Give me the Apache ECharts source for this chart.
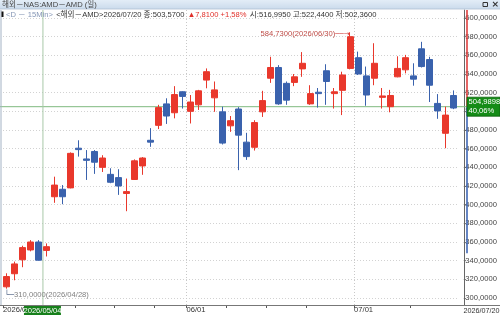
<!DOCTYPE html>
<html><head><meta charset="utf-8">
<script src="https://cdn.jsdelivr.net/npm/echarts@6/dist/echarts.min.js"></script>
<style>html,body{margin:0;padding:0;background:#fff;overflow:hidden}#c{width:500px;height:315px}</style>
</head><body><div id="c"></div>
<script>
// ---------- data ----------
const dates = ['2026/04/28','2026/04/29','2026/04/30','2026/05/01','2026/05/04','2026/05/05','2026/05/06','2026/05/07','2026/05/08',
 '2026/05/11','2026/05/12','2026/05/13','2026/05/14','2026/05/15','2026/05/18','2026/05/19','2026/05/20','2026/05/21','2026/05/22',
 '2026/05/26','2026/05/27','2026/05/28','2026/05/29','2026/06/01','2026/06/02','2026/06/03','2026/06/04','2026/06/05',
 '2026/06/08','2026/06/09','2026/06/10','2026/06/11','2026/06/12','2026/06/15','2026/06/16','2026/06/17','2026/06/18',
 '2026/06/22','2026/06/23','2026/06/24','2026/06/25','2026/06/26','2026/06/29','2026/06/30','2026/07/01','2026/07/02',
 '2026/07/06','2026/07/07','2026/07/08','2026/07/09','2026/07/10','2026/07/13','2026/07/14','2026/07/15','2026/07/16','2026/07/17','2026/07/20'];
const openP  = [312,326,341,351.5,360,351,408.5,416.5,418,460.5,449,457,440,432.5,429,412,427,441.5,469,485,508,498.5,521,500,507,533.5,514.5,499.5,484.5,502.5,467,461.5,499.5,535.5,547,530,531,545.5,508,520.5,543.5,519,522.5,546,557.5,538,535.5,515,505,537,544.5,538,567,555.5,508.5,476.5,516.995];
const closeP = [323,336.5,354,360,340.5,355,421,408.5,455,459,447.5,445.5,450,424,420,414,447,450,467,504,495,518,516,510,522,542.5,523,466,490,474.5,451.5,488,511.5,547,508,512,537,551.5,519,519,532,521,539,580,540,517.5,551.5,516.5,517,546,557.5,534.5,548,528,500.5,496,503.57];
const lowP   = [310,319,333,350,340,344.5,402,400.5,417.5,451.5,426.5,433,435,423,410.5,393,426.5,432,462,481,486.5,492.5,503,487,501.5,524.7,499.5,464.5,478,437,448,458,494,530.5,507,507,527,537,507,504,507,503,496,545,539,506,528,503,499,536.5,540.7,527.5,547,510,492,460.5,502.36];
const highP  = [326.5,339,356,362,362,358.5,430,421,456,469,458.5,458.5,453,439,438,428,448.5,451,482,507,514,527,521.5,517.5,523,546,532,505,495,504.5,477,490.5,522,558.5,549.5,532,540,563.5,528,525,550.5,525,542.5,584.73,564,548,573,525,523,559,560.5,551.5,574.5,558.5,518.5,505,522.44];
const yTicks = [300,320,340,360,380,400,420,440,460,480,500,520,540,560,580,600];
const tickDates = ['2026/05/11','2026/05/18','2026/05/26','2026/06/01','2026/06/08','2026/06/15','2026/06/23','2026/07/01','2026/07/13'];
const monthDates = ['2026/06/01','2026/07/01'];
const crossDate = '2026/05/04';
const crossPrice = 504.9898;
const crossPct = '40,06%';
const axisBlueEnd = 348;
const titleText = '해외－NAS:AMD－AMD (일)';
const infoParts = ['<D － 15Min>', '<해외－AMD>2026/07/20 종:503,5700', '▲7,8100 +1,58%', '시:516,9950 고:522,4400 저:502,3600'];

// ---------- chart ----------
const FONT = '"Liberation Sans",Arial,"Noto Sans CJK KR",sans-serif';
const FS = 7.6;
const fmt4 = v => Number(v).toFixed(4).replace('.', ',');
const boundaries = dates.concat(['END']);
const Y_MIN = 292.5, Y_MAX = 608.6;
const UP = '#e9382c', DOWN = '#3a62ad';

const maxIdx = highP.indexOf(Math.max.apply(null, highP));
const minIdx = lowP.indexOf(Math.min.apply(null, lowP));

const chart = echarts.init(document.getElementById('c'), null, {renderer: 'canvas'});
const option = {
  animation: false,
  backgroundColor: '#ffffff',
  grid: {left: 0, right: 39, top: 10, bottom: 10, containLabel: false},
  xAxis: [
    {type: 'category', data: dates, boundaryGap: true,
     axisLine: {show: false}, axisTick: {show: false}, axisLabel: {show: false}, splitLine: {show: false}},
    {type: 'category', data: boundaries, boundaryGap: false, position: 'bottom',
     axisLine: {show: false},
     axisTick: {show: true, length: 3, lineStyle: {color: '#555'},
       interval: (i, v) => i === 0 || tickDates.indexOf(v) >= 0},
     axisLabel: {show: true, align: 'left', margin: 1.5, fontSize: FS, color: '#333', fontFamily: FONT,
       interval: (i, v) => i === 0 || monthDates.indexOf(v) >= 0,
       formatter: (v, i) => i === 0 ? v : v.slice(5)},
     splitLine: {show: true, interval: (i, v) => monthDates.indexOf(v) >= 0,
       lineStyle: {type: [1, 2], color: '#c8c8c8'}}}
  ],
  yAxis: {type: 'value', position: 'right', offset: 6, min: Y_MIN, max: Y_MAX,
    axisLine: {show: true, lineStyle: {color: '#666'}},
    axisTick: {show: true, length: 2, customValues: yTicks, lineStyle: {color: '#666'}},
    axisLabel: {customValues: yTicks, formatter: fmt4, margin: 1.5, fontSize: FS, color: '#444', fontFamily: FONT},
    splitLine: {show: true, lineStyle: {type: [1, 2], color: '#d2d2d2'}}},
  series: [{
    type: 'candlestick', xAxisIndex: 0, barWidth: 6.5, z: 5,
    data: dates.map((d, i) => [openP[i], closeP[i], lowP[i], highP[i]]),
    itemStyle: {color: UP, color0: DOWN, borderColor: UP, borderColor0: DOWN, borderWidth: 1},
    markPoint: {symbol: 'circle', symbolSize: 1, silent: true, itemStyle: {color: 'rgba(0,0,0,0)'},
      data: [
        {coord: [dates[maxIdx], highP[maxIdx]],
         label: {show: true, position: 'left', distance: 0, offset: [0, 1.5],
           formatter: '{t|' + fmt4(highP[maxIdx]) + '(' + dates[maxIdx] + ')}{a|──→}',
           rich: {t: {color: '#bd4a45', fontSize: FS, fontFamily: FONT},
                  a: {color: '#d04040', fontSize: 7, fontFamily: '"DejaVu Sans",sans-serif'}}}},
        {coord: [dates[minIdx], lowP[minIdx]],
         label: {show: true, position: 'right', distance: 0, offset: [-3, 6.5],
           formatter: '{a|└─}{t|' + fmt4(lowP[minIdx]) + '(' + dates[minIdx] + ')}',
           rich: {t: {color: '#808080', fontSize: FS, fontFamily: FONT},
                  a: {color: '#56698a', fontSize: 8, fontFamily: '"DejaVu Sans",sans-serif'}}}}
      ]}
  }]
};
chart.setOption(option);

// ---------- overlays positioned through the chart's own scales ----------
const band = 461 / dates.length;
const cx = chart.convertToPixel({xAxisIndex: 0}, crossDate) + band / 2;
const cy = chart.convertToPixel({yAxisIndex: 0}, crossPrice);
const topY = chart.convertToPixel({yAxisIndex: 0}, Y_MAX);
const botY = chart.convertToPixel({yAxisIndex: 0}, Y_MIN);
const blueY = chart.convertToPixel({yAxisIndex: 0}, axisBlueEnd);
const axX = 467;

chart.setOption({graphic: [
  {type: 'line', z: 1, shape: {x1: 0, y1: cy, x2: axX, y2: cy}, style: {stroke: '#7fb97f', lineWidth: 1}},
  {type: 'line', z: 1, shape: {x1: cx, y1: topY, x2: cx, y2: botY}, style: {stroke: '#a8c8a8', lineWidth: 1}},
  {type: 'line', z: 10, shape: {x1: 1, y1: topY, x2: 1, y2: botY}, style: {stroke: '#a3b2c4', lineWidth: 1}},
  {type: 'line', z: 10, shape: {x1: 0, y1: botY + 0.5, x2: 500, y2: botY + 0.5}, style: {stroke: '#777', lineWidth: 1}},
  {type: 'line', z: 20, shape: {x1: axX, y1: topY, x2: axX, y2: cy}, style: {stroke: '#e04040', lineWidth: 1.6}},
  {type: 'line', z: 20, shape: {x1: axX, y1: cy, x2: axX, y2: blueY}, style: {stroke: '#3f67b5', lineWidth: 1.6}},
  {type: 'text', z: 20, style: {x: 499.5, y: botY + 2, text: dates[dates.length - 1], fontSize: 7.2, fontFamily: FONT, fill: '#333', align: 'right', verticalAlign: 'top'}},
  // title bar
  {type: 'rect', z: 30, shape: {x: 0, y: 0, width: 500, height: 9}, style: {fill: new echarts.graphic.LinearGradient(0, 0, 0, 1, [{offset: 0, color: '#e3edf7'}, {offset: 1, color: '#cbdbec'}])}},
  {type: 'line', z: 30, shape: {x1: 0, y1: 9, x2: 500, y2: 9}, style: {stroke: '#aebfd3', lineWidth: 0.8}},
  {type: 'text', z: 31, style: {x: 2, y: 4.8, text: titleText, fontSize: FS, fontFamily: FONT, fill: '#444', verticalAlign: 'middle'}},
  {type: 'rect', z: 31, shape: {x: 483, y: 2.5, width: 4.5, height: 4}, style: {fill: 'none', stroke: '#333', lineWidth: 1}},
  {type: 'text', z: 31, style: {x: 491.5, y: 4.8, text: '×', fontSize: 9, fontFamily: '"DejaVu Sans",sans-serif', fill: '#333', verticalAlign: 'middle', fontWeight: 'bold'}},
  // info line
  {type: 'rect', z: 31, shape: {x: 1.5, y: 11.5, width: 2, height: 5.5}, style: {fill: '#111'}},
  {type: 'text', z: 31, style: {x: 6, y: 14.5, verticalAlign: 'middle',
    text: '{b|' + infoParts[0] + '} {k|' + infoParts[1] + '} {r|' + infoParts[2] + '} {k|' + infoParts[3] + '}',
    rich: {b: {fill: '#8596b5', fontSize: FS, fontFamily: FONT},
           k: {fill: '#333', fontSize: FS, fontFamily: FONT},
           r: {fill: '#e0302a', fontSize: FS, fontFamily: FONT}}}},
  // crosshair labels
  {type: 'rect', z: 40, shape: {x: axX, y: cy - 9.5, width: 33, height: 19}, style: {fill: '#158c17', stroke: '#0b5e0c', lineWidth: 0.8}},
  {type: 'text', z: 41, style: {x: axX + 1.5, y: cy - 4.5, text: fmt4(crossPrice), fontSize: FS, fontFamily: FONT, fill: '#fff', verticalAlign: 'middle'}},
  {type: 'text', z: 41, style: {x: axX + 1.5, y: cy + 4.5, text: crossPct, fontSize: FS, fontFamily: FONT, fill: '#fff', verticalAlign: 'middle'}},
  {type: 'rect', z: 40, shape: {x: cx - 19, y: botY + 1, width: 37, height: 10}, style: {fill: '#17801b'}},
  {type: 'text', z: 41, style: {x: cx - 0.5, y: botY + 6, text: crossDate, fontSize: FS, fontFamily: FONT, fill: '#fff', align: 'center', verticalAlign: 'middle'}}
]});
</script></body></html>
